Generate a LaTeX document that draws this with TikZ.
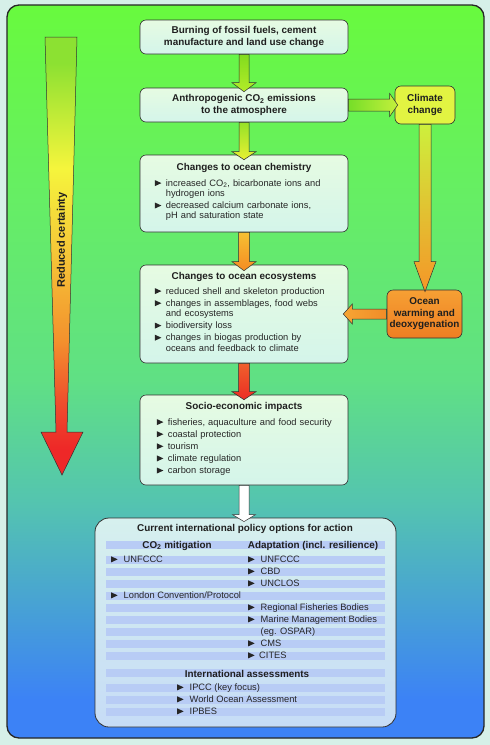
\documentclass[tikz,border=0pt]{standalone}
\usepackage{fontspec}
\setmainfont{Liberation Sans}
\usetikzlibrary{calc}

\definecolor{bgG}{RGB}{104,250,62}
\definecolor{bgG2}{RGB}{102,238,100}
\definecolor{bgM}{RGB}{96,224,132}
\definecolor{bgT}{RGB}{84,196,176}
\definecolor{bgB}{RGB}{60,130,246}
\definecolor{outerc}{RGB}{214,240,232}
\definecolor{boxT}{RGB}{230,251,226}
\definecolor{boxB}{RGB}{212,245,234}
\definecolor{ccFill}{RGB}{226,244,66}
\definecolor{owT}{RGB}{246,160,52}
\definecolor{owB}{RGB}{238,126,34}
\definecolor{polT}{RGB}{214,240,238}
\definecolor{polB}{RGB}{198,220,246}
\definecolor{stripe}{RGB}{184,204,245}
\definecolor{edge}{RGB}{50,50,50}
\definecolor{cGr}{RGB}{140,225,50}
\definecolor{cYel}{RGB}{245,245,60}
\definecolor{cYO}{RGB}{245,200,56}
\definecolor{cOr}{RGB}{243,145,45}
\definecolor{cRO}{RGB}{239,80,45}
\definecolor{cRed}{RGB}{238,40,40}

\pgfdeclareverticalshading{bgshade}{100bp}{color(0bp)=(bgB); color(27.6bp)=(bgB); color(41bp)=(bgT); color(49.5bp)=(bgM); color(62bp)=(bgG2); color(75bp)=(bgG); color(100bp)=(bgG)}
\pgfdeclareverticalshading{certshade}{100bp}{color(0bp)=(cRed); color(28bp)=(cRed); color(33.6bp)=(cRO); color(40.4bp)=(cOr); color(50.7bp)=(cYO); color(60bp)=(cYel); color(72bp)=(cGr); color(100bp)=(cGr)}

\newcommand\ttl{\fontsize{9.9}{11.5}\selectfont\bfseries}
\newcommand\itfont{\fontsize{9.3}{10.3}\selectfont\setlength{\parskip}{1.8pt}}
\newcommand\certfont{\fontsize{11}{13}\selectfont\bfseries}
\newcommand\bul{\tikz[baseline=0pt]\fill[black!85] (0pt,0pt)--(0pt,6pt)--(6.5pt,3pt)--cycle;}
\newcommand\itm[1]{\hangindent=11pt\hangafter=1\noindent\makebox[11pt][l]{\bul}\strut#1\par}
\newcommand\bulp{\makebox[12.5pt][l]{\bul}}

% vertical block arrow: from, to, style, shaft half, head half, head base above target top, tip below target top
\newcommand\vblk[7]{\path[#3] let \p1=(#1.south), \p2=(#2.north) in
  (\x1-#4,\y1) -- (\x1-#4,\y2+#6) -- (\x1-#5,\y2+#6) -- (\x1,\y2-#7) -- (\x1+#5,\y2+#6) -- (\x1+#4,\y2+#6) -- (\x1+#4,\y1) -- cycle;}
% rightward block arrow
\newcommand\hblkR[7]{\path[#3] let \p1=(#1.east), \p2=(#2.west) in
  (\x1,\y1+#4) -- (\x2-#6,\y1+#4) -- (\x2-#6,\y1+#5) -- (\x2+#7,\y1) -- (\x2-#6,\y1-#5) -- (\x2-#6,\y1-#4) -- (\x1,\y1-#4) -- cycle;}
% leftward block arrow
\newcommand\hblkL[7]{\path[#3] let \p1=(#1.west), \p2=(#2.east) in
  (\x1,\y1+#4) -- (\x2+#6,\y1+#4) -- (\x2+#6,\y1+#5) -- (\x2-#7,\y1) -- (\x2+#6,\y1-#5) -- (\x2+#6,\y1-#4) -- (\x1,\y1-#4) -- cycle;}

\begin{document}
\begin{tikzpicture}[x=1pt,y=-1pt,
  boxbase/.style={draw=edge, line width=0.6pt, rounded corners=6pt, inner sep=0pt, text=black!88},
  box/.style={boxbase, top color=boxT, bottom color=boxB},
  ttlnode/.style={font=\ttl, inner sep=0pt, text=black!88},
  itmnode/.style={font=\itfont, inner sep=0pt, text width=200pt, align=left, anchor=north west, text=black!85},
  pitem/.style={font=\itfont, inner sep=0pt, anchor=west, text height=6.5pt, text depth=1.8pt, text=black!85},
  arr/.style={draw=edge, line width=0.5pt}]
\useasboundingbox (0,0) rectangle (490,745);
\fill[outerc] (0,0) rectangle (490,745);
\shade[shading=bgshade, rounded corners=12pt] (7,5) rectangle (484,738);
\draw[black!85, line width=1.3pt, rounded corners=12pt] (7,5) rectangle (484,738);

% reduced certainty arrow
\shade[shading=certshade, draw=edge, line width=0.5pt] (45,37) -- (77,37) -- (67,432) -- (83,432) -- (62,475) -- (41,432) -- (56,432) -- cycle;
\node[rotate=90, font=\certfont, text=black!88] (rc) at (62,240) {Reduced certainty};

% boxes
\node[box, minimum width=208pt, minimum height=34pt, align=center, font=\ttl] (b1) at (244,37) {Burning of fossil fuels, cement\\manufacture and land use change};
\node[box, minimum width=208pt, minimum height=34pt, align=center, font=\ttl] (b2) at (244,105) {Anthropogenic CO\textsubscript{2} emissions\\to the atmosphere};
\node[boxbase, fill=ccFill, minimum width=60pt, minimum height=38pt, align=center, font=\ttl] (cc) at (425,105) {Climate\\change};
\node[box, minimum width=208pt, minimum height=77pt] (b3) at (244,193.5) {};
\node[box, minimum width=208pt, minimum height=98pt] (b4) at (244,314) {};
\node[boxbase, top color=owT, bottom color=owB, minimum width=75pt, minimum height=48pt, align=center, font=\ttl] (ow) at (424.5,314) {Ocean\\warming and\\deoxygenation};
\node[box, minimum width=208pt, minimum height=90pt] (b5) at (244,440) {};
\node[boxbase, rounded corners=14pt, line width=0.8pt, top color=polT, bottom color=polB, minimum width=301pt, minimum height=209pt] (b6) at (245.5,622.5) {};

% box texts
\node[ttlnode] (b3h) at ($(b3.north)+(0,13)$) {Changes to ocean chemistry};
\node[itmnode] (b3i) at ($(b3.north west)+(15,24)$) {\itm{increased CO\textsubscript{2}, bicarbonate ions and\newline hydrogen ions}\itm{decreased calcium carbonate ions,\newline pH and saturation state}};

\node[ttlnode] (b4h) at ($(b4.north)+(0,12)$) {Changes to ocean ecosystems};
\node[itmnode] (b4i) at ($(b4.north west)+(15,22)$) {\itm{reduced shell and skeleton production}\itm{changes in assemblages, food webs\newline and ecosystems}\itm{biodiversity loss}\itm{changes in biogas production by\newline oceans and feedback to climate}};

\node[ttlnode] (b5h) at ($(b5.north)+(0,12)$) {Socio-economic impacts};
\node[itmnode] (b5i) at ($(b5.north west)+(17,23)$) {\itm{fisheries, aquaculture and food security}\itm{coastal protection}\itm{tourism}\itm{climate regulation}\itm{carbon storage}};

% policy box
\foreach \yy in {545,560,572,...,656,673,688,700,712}
  \fill[stripe] (106,\yy-4.25) rectangle (385,\yy+4.25);
\node[ttlnode] (b6h) at (245,529) {Current international policy options for action};
\node[ttlnode] (hco) at (177,545.5) {CO\textsubscript{2} mitigation};
\node[ttlnode] (had) at (313,545.5) {Adaptation (incl. resilience)};
\node[pitem] (l1) at (111,560) {\bulp UNFCCC};
\node[pitem] (l2) at (111,596) {\bulp London Convention/Protocol};
\node[pitem] (r1) at (248,560) {\bulp UNFCCC};
\node[pitem] (r2) at (248,572) {\bulp CBD};
\node[pitem] (r3) at (248,584) {\bulp UNCLOS};
\node[pitem] (r4) at (248,608) {\bulp Regional Fisheries Bodies};
\node[pitem] (r5) at (248,620) {\bulp Marine Management Bodies};
\node[pitem] (r6) at (260.5,632) {(eg. OSPAR)};
\node[pitem] (r7) at (248,644) {\bulp CMS};
\node[pitem] (r8) at (248,656) {\makebox[11pt][l]{\bul}CITES};
\node[ttlnode] (ia) at (247,673.5) {International assessments};
\node[pitem] (i1) at (177,688) {\bulp IPCC (key focus)};
\node[pitem] (i2) at (177,700) {\bulp World Ocean Assessment};
\node[pitem] (i3) at (177,712) {\bulp IPBES};

% block arrows
\vblk{b1}{b2}{arr, top color={rgb,255:red,130;green,220;blue,30}, bottom color={rgb,255:red,178;green,236;blue,40}}{5pt}{12pt}{5pt}{4pt}
\vblk{b2}{b3}{arr, top color={rgb,255:red,150;green,226;blue,40}, bottom color={rgb,255:red,232;green,240;blue,50}}{5pt}{12pt}{3pt}{5pt}
\vblk{b3}{b4}{arr, top color={rgb,255:red,245;green,192;blue,50}, bottom color={rgb,255:red,245;green,140;blue,35}}{5.5pt}{12pt}{3pt}{6pt}
\vblk{b4}{b5}{arr, top color={rgb,255:red,240;green,96;blue,45}, bottom color={rgb,255:red,235;green,45;blue,35}}{5.5pt}{12pt}{3pt}{5pt}
\vblk{b5}{b6}{arr, fill=white}{5pt}{11.5pt}{3pt}{4pt}
\vblk{cc}{ow}{arr, top color={rgb,255:red,205;green,240;blue,60}, middle color={rgb,255:red,240;green,232;blue,58}, bottom color={rgb,255:red,245;green,150;blue,40}}{6pt}{11pt}{28pt}{2pt}
\hblkR{b2}{cc}{arr, left color={rgb,255:red,118;green,222;blue,40}, right color={rgb,255:red,195;green,240;blue,60}}{6pt}{11.5pt}{5pt}{3pt}
\hblkL{ow}{b4}{arr, left color={rgb,255:red,246;green,165;blue,52}, right color={rgb,255:red,240;green,140;blue,40}}{5pt}{10pt}{4pt}{5pt}
\end{tikzpicture}
\end{document}
